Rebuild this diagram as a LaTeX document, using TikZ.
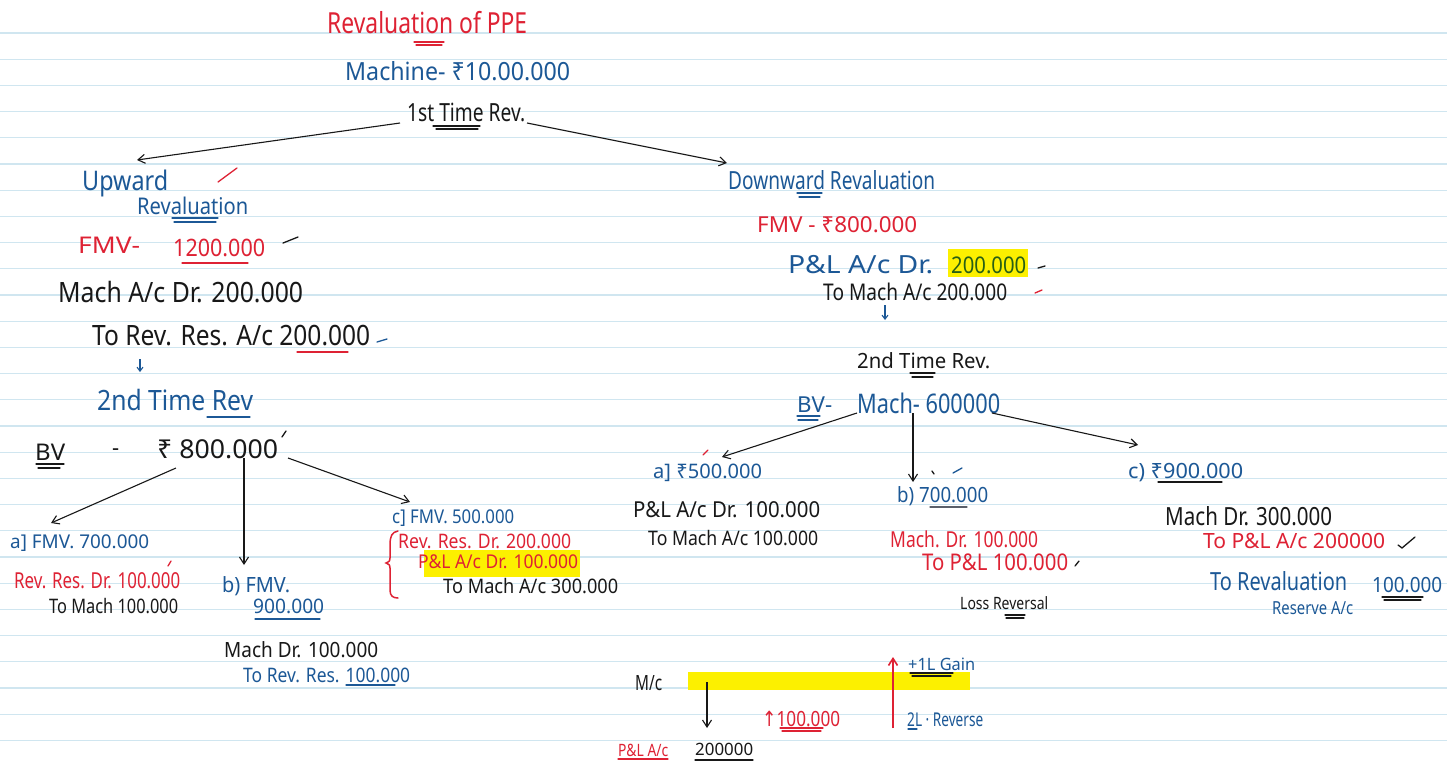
\documentclass[tikz,border=0pt]{standalone}
\usepackage{fontspec}
\setmainfont{Noto Sans}
\newfontfamily\symfont{DejaVu Sans}
\usetikzlibrary{arrows.meta}
\definecolor{inkred}{RGB}{222,34,52}
\definecolor{inkblue}{RGB}{28,88,150}
\definecolor{inkblack}{RGB}{24,24,24}
\definecolor{inkgreen}{RGB}{40,95,20}
\definecolor{inkgrey}{RGB}{90,95,105}
\definecolor{hilite}{RGB}{252,240,0}
\definecolor{ruling}{RGB}{208,230,240}
\newcommand\fs[1]{\fontsize{#1}{#1}\selectfont}
% squeeze a text to a given width, keeping its height
\newcommand\hw[2]{\resizebox{#1pt}{\height}{#2}}
\begin{document}
\begin{tikzpicture}[x=1pt,y=-1pt,
  txt/.style={inner sep=0pt, anchor=base west},
  red/.style={text=inkred}, blu/.style={text=inkblue}, blk/.style={text=inkblack},
  arr/.style={-{Straight Barb[length=7pt,width=9pt]}, line width=1.1pt, draw=inkblack},
  smallarr/.style={-{Straight Barb[length=4pt,width=6pt]}, line width=1.1pt, draw=inkblue},
  ul/.style={line width=1.2pt, line cap=round},
  tick/.style={line width=1.3pt, line cap=round}]
% page with ruled lines
\path[use as bounding box, fill=white] (0,0) rectangle (1447,763);
\foreach \k in {0,...,27}
  \draw[ruling, line width=1.3pt] (0,{33+26.2*\k}) -- (1447,{33+26.2*\k});

% highlights
\fill[hilite] (424,550) rectangle (580,577);
\fill[hilite] (948,249) rectangle (1028,277);
\fill[hilite] (688,672) rectangle (970,690);

% heading
\node[txt,red,font=\fs{29}] (title) at (327,33) {\hw{200}{Revaluation of PPE}};
\node[txt,blu,font=\fs{25}] (mach) at (345,80) {\hw{225}{Machine- ₹10.00.000}};
\node[txt,blk,font=\fs{25}] (first) at (407,121) {\hw{118}{1st Time Rev.}};

% upward revaluation
\node[txt,blu,font=\fs{27}] (upw) at (82,190) {\hw{86}{Upward}};
\node[txt,blu,font=\fs{23}] (upw2) at (137,214) {\hw{111}{Revaluation}};
\node[txt,red,font=\fs{23}] (ufmv) at (78,253) {\hw{62}{FMV-}};
\node[txt,red,font=\fs{24}] (ufmvv) at (173,256) {\hw{92}{1200.000}};
\node[txt,blk,font=\fs{28}] (uje1) at (58,302) {\hw{245}{Mach A/c Dr. 200.000}};
\node[txt,blk,font=\fs{28}] (uje2) at (92,345) {\hw{278}{To Rev. Res. A/c 200.000}};
\node[txt,blu,font=\fs{28}] (usec) at (97,410) {\hw{156}{2nd Time Rev}};
\node[txt,blk,font=\fs{23}] (ubv) at (35,460) {\hw{30}{BV}};
\node[txt,blk,font=\fs{22}] (ubvd) at (112,455) {-};
\node[txt,blk,font=\fs{26}] (ubvv) at (157,458) {\hw{121}{₹ 800.000}};

\node[txt,blu,font=\fs{19}] (la) at (10,548) {\hw{139}{a] FMV. 700.000}};
\node[txt,red,font=\fs{22}] (la1) at (14,588) {\hw{166}{Rev. Res. Dr. 100.000}};
\node[txt,blk,font=\fs{20}] (la2) at (49,613) {\hw{129}{To Mach 100.000}};
\node[txt,blu,font=\fs{21}] (lb) at (222,592) {\hw{68}{b) FMV.}};
\node[txt,blu,font=\fs{20}] (lbv) at (253,613) {\hw{71}{900.000}};
\node[txt,blk,font=\fs{21}] (lb1) at (224,657) {\hw{154}{Mach Dr. 100.000}};
\node[txt,blu,font=\fs{20}] (lb2) at (243,682) {\hw{167}{To Rev. Res. 100.000}};
\node[txt,blu,font=\fs{19}] (lc) at (392,523) {\hw{122}{c] FMV. 500.000}};
\node[txt,red,font=\fs{20}] (lc1) at (398,548) {\hw{173}{Rev. Res. Dr. 200.000}};
\node[txt,red,font=\fs{19}] (lc2) at (418,568) {\hw{160}{P\&L A/c Dr. 100.000}};
\node[txt,blk,font=\fs{20}] (lc3) at (443,593) {\hw{175}{To Mach A/c 300.000}};

% downward revaluation
\node[txt,blu,font=\fs{25}] (dw) at (728,189) {\hw{207}{Downward Revaluation}};
\node[txt,red,font=\fs{22}] (dfmv) at (757,232) {\hw{160}{FMV - ₹800.000}};
\node[txt,blu,font=\fs{25}] (dje1) at (788,273) {\hw{145}{P\&L A/c Dr.}};
\node[txt,text=inkgreen,font=\fs{23}] (dje1v) at (951,273) {\hw{75}{200.000}};
\node[txt,blk,font=\fs{23}] (dje2) at (823,300) {\hw{184}{To Mach A/c 200.000}};
\node[txt,blk,font=\fs{21}] (dsec) at (857,368) {\hw{133}{2nd Time Rev.}};
\node[txt,blu,font=\fs{22}] (dbv) at (797,412) {\hw{35}{BV-}};
\node[txt,blu,font=\fs{27}] (dbvv) at (857,413) {\hw{143}{Mach- 600000}};

\node[txt,blu,font=\fs{20}] (ra) at (653,478) {\hw{109}{a] ₹500.000}};
\node[txt,blk,font=\fs{22}] (ra1) at (633,517) {\hw{187}{P\&L A/c Dr. 100.000}};
\node[txt,blk,font=\fs{20}] (ra2) at (648,545) {\hw{170}{To Mach A/c 100.000}};
\node[txt,blu,font=\fs{21}] (rb) at (897,502) {\hw{91}{b) 700.000}};
\node[txt,red,font=\fs{22}] (rb1) at (890,547) {\hw{148}{Mach. Dr. 100.000}};
\node[txt,red,font=\fs{23}] (rb2) at (922,570) {\hw{146}{To P\&L 100.000}};
\node[txt,blk,font=\fs{17}] (rb3) at (960,609) {\hw{88}{Loss Reversal}};
\node[txt,blu,font=\fs{21}] (rc) at (1128,478) {\hw{115}{c) ₹900.000}};
\node[txt,blk,font=\fs{25}] (rc1) at (1165,525) {\hw{167}{Mach Dr. 300.000}};
\node[txt,red,font=\fs{21}] (rc2) at (1203,548) {\hw{182}{To P\&L A/c 200000}};
\node[txt,blu,font=\fs{25}] (rc3) at (1210,590) {\hw{137}{To Revaluation}};
\node[txt,blu,font=\fs{21}] (rc3v) at (1372,592) {\hw{70}{100.000}};
\node[txt,blu,font=\fs{18}] (rc4) at (1272,614) {\hw{81}{Reserve A/c}};

% machine account sketch
\node[txt,blk,font=\fs{21}] (mc) at (635,690) {\hw{27}{M/c}};
\node[txt,red,font=\fs{17}] (pl) at (618,756) {\hw{50}{P\&L A/c}};
\node[txt,blk,font=\fs{17}] (plv) at (695,755) {\hw{58}{200000}};
\node[txt,red,font=\fs{21}] (inc) at (762,726) {\hw{78}{{\symfont ↑}100.000}};
\node[txt,blu,font=\fs{17}] (gain) at (908,670) {\hw{67}{+1L Gain}};
\node[txt,blu,font=\fs{19}] (rev2) at (907,726) {\hw{76}{2L · Reverse}};

% connector end points
\coordinate (a1s) at (400,123); \coordinate (a1e) at (137,160);
\coordinate (a2s) at (527,123); \coordinate (a2e) at (727,163);
\coordinate (b1s) at (176,468); \coordinate (b1e) at (51,523);
\coordinate (b2s) at (244,458); \coordinate (b2e) at (244,565);
\coordinate (b3s) at (288,458); \coordinate (b3e) at (410,502);
\coordinate (c1s) at (857,413); \coordinate (c1e) at (722,457);
\coordinate (c2s) at (913,413); \coordinate (c2e) at (913,482);
\coordinate (c3s) at (992,413); \coordinate (c3e) at (1138,445);
\coordinate (d1s) at (707,682); \coordinate (d1e) at (707,728);
\coordinate (d2s) at (893,728); \coordinate (d2e) at (893,657);
\coordinate (s1s) at (140,359); \coordinate (s1e) at (140,372);
\coordinate (s2s) at (885,305); \coordinate (s2e) at (885,320);

\draw[arr] (a1s) -- (a1e);
\draw[arr] (a2s) -- (a2e);
\draw[arr] (b1s) -- (b1e);
\draw[arr] (b2s) -- (b2e);
\draw[arr] (b3s) -- (b3e);
\draw[arr] (c1s) -- (c1e);
\draw[arr] (c2s) -- (c2e);
\draw[arr] (c3s) -- (c3e);
\draw[arr] (d1s) -- (d1e);
\draw[arr, draw=inkred, line width=1.6pt] (d2s) -- (d2e);
\draw[smallarr] (s1s) -- (s1e);
\draw[smallarr] (s2s) -- (s2e);

% underlines
\draw[ul,inkred] (414,42) -- (444,42) (416,45) -- (442,45);
\draw[ul,inkblack] (433,126) -- (480,126) (436,129) -- (478,129);
\draw[ul,inkblue] (172,218) -- (218,218) (174,222) -- (216,222);
\draw[ul,inkred] (182,263) -- (248,263);
\draw[ul,inkred] (297,352) -- (348,352);
\draw[ul,inkblue] (207,417) -- (250,417);
\draw[ul,inkblack] (36,464) -- (64,464) (38,468) -- (60,468);
\draw[ul,inkblue] (255,619) -- (320,619);
\draw[ul,inkblue] (346,685) -- (395,685);
\draw[ul,inkblue] (797,193) -- (822,193) (799,197) -- (820,197);
\draw[ul,inkblack] (910,373) -- (935,373) (912,377) -- (933,377);
\draw[ul,inkblue] (797,416) -- (820,416) (798,420) -- (818,420);
\draw[ul,inkgrey] (930,507) -- (967,507);
\draw[ul,inkblack] (1005,615) -- (1025,615) (1006,618) -- (1024,618);
\draw[ul,inkblack] (1158,482) -- (1222,482);
\draw[ul,inkblack] (1382,597) -- (1423,597) (1384,600) -- (1421,600);
\draw[ul,inkred] (618,759) -- (668,759);
\draw[ul,inkblack] (695,760) -- (753,760);
\draw[ul,inkred] (780,728) -- (823,728) (782,731) -- (821,731);
\draw[ul,inkblack] (910,673) -- (953,673) (912,676) -- (951,676);
\draw[ul,inkblue] (908,729) -- (917,729);

% brace grouping the three-line entry
\draw[inkred, line width=1.5pt, line cap=round]
  (398,531) .. controls (392,532) and (390,536) .. (390,545) -- (390,558)
  .. controls (390,561) .. (386,563) .. controls (390,565) .. (390,568)
  -- (390,590) .. controls (390,596) and (393,598) .. (398,598);

% check marks
\draw[tick,inkred] (218,182) -- (237,168);
\draw[tick,inkblack] (283,243) -- (298,237);
\draw[tick,inkblue] (377,342) -- (387,339);
\draw[tick,inkblack] (282,437) -- (286,431);
\draw[tick,inkred] (168,566) -- (171,561);
\draw[tick,inkred] (703,455) -- (708,450);
\draw[tick,inkblack] (1038,268) -- (1045,266);
\draw[tick,inkred] (1035,293) -- (1042,290);
\draw[tick,inkblue] (953,473) -- (962,468);
\draw[tick,inkblack] (932,471) -- (934,474);
\draw[tick,inkblack] (1075,566) -- (1079,561);
\draw[tick,inkblack] (1398,545) -- (1402,548) -- (1415,537);
\end{tikzpicture}
\end{document}
